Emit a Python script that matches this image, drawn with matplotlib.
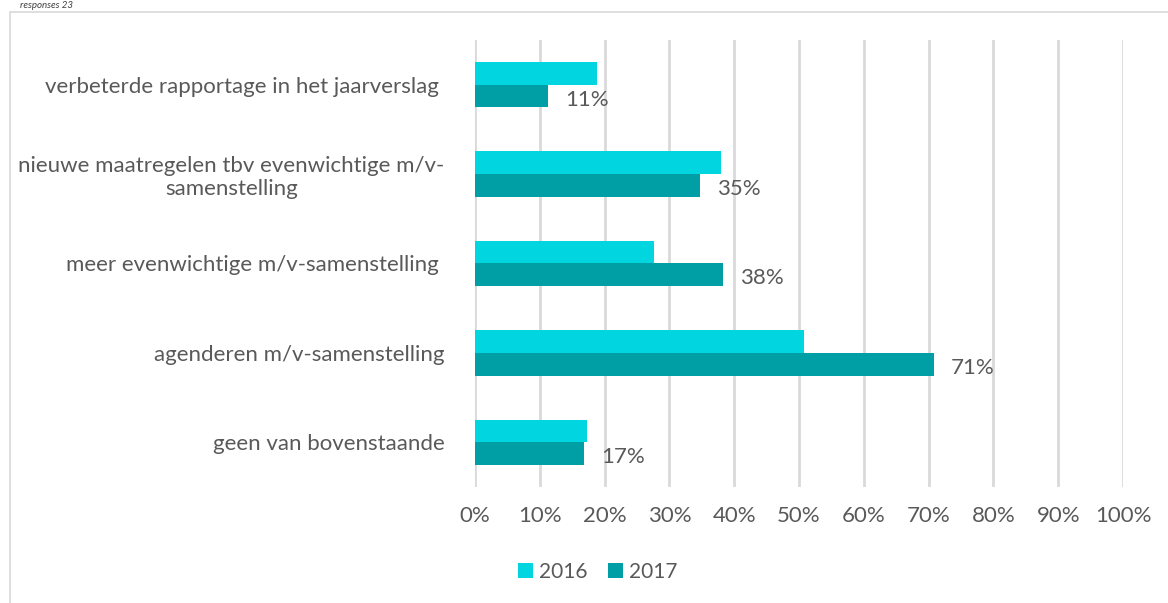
import matplotlib.pyplot as plt
from matplotlib.patches import Rectangle

categories = [
    "verbeterde rapportage in het jaarverslag ",
    "nieuwe maatregelen tbv evenwichtige m/v-\nsamenstelling",
    "meer evenwichtige m/v-samenstelling ",
    "agenderen m/v-samenstelling",
    "geen van bovenstaande",
]
vals_2016 = [18.8, 38.0, 27.7, 50.8, 17.3]
vals_2017 = [11.3, 34.7, 38.3, 70.8, 16.8]
labels_2017 = ["11%", "35%", "38%", "71%", "17%"]
ticks = list(range(0, 101, 10))

plt.rcParams.update({"font.family": ["Lato", "DejaVu Sans"], "font.size": 16})
txt = "#595959"
c16, c17 = "#00D5E0", "#009FA6"

fig = plt.figure(figsize=(11.68, 6.03), dpi=100)
fig.patches.append(Rectangle((10 / 1168, -0.1), 1.1, 1 - 12 / 603 + 0.1,
                             transform=fig.transFigure, fill=False,
                             edgecolor="#d9d9d9", linewidth=1.2))
fig.text(20 / 1168, 1 - 5 / 603, "responses 23", fontsize=7, style="italic",
         color="#404040", va="center")

ax = fig.add_axes([475 / 1168, 1 - 487 / 603, 648 / 1168, 447 / 603])
n = len(categories)
ys = list(range(n))
h = 0.255
ax.barh([y - h / 2 for y in ys], vals_2016, height=h, color=c16, label="2016")
ax.barh([y + h / 2 for y in ys], vals_2017, height=h, color=c17, label="2017")
for y, v, lab in zip(ys, vals_2017, labels_2017):
    ax.text(v + 2.6, y + h / 2 + 0.04, lab, va="center", ha="left",
            fontsize=16, color=txt)

ax.set_ylim(n - 0.5, -0.5)
ax.set_xlim(0, 100)
ax.set_xticks(ticks)
ax.set_xticklabels([f"{t}%" for t in ticks])
ax.set_yticks(ys)
ax.set_yticklabels(categories, multialignment="center")
ax.tick_params(length=0, colors=txt, labelsize=16)
ax.tick_params(axis="x", pad=14)
ax.tick_params(axis="y", pad=22)
ax.grid(axis="x", color="#d9d9d9", linewidth=2)
ax.set_axisbelow(True)
for s in ax.spines.values():
    s.set_visible(False)

ax.legend(loc="center", bbox_to_anchor=(598 / 1168, 1 - 572 / 603),
          bbox_transform=fig.transFigure, ncol=2, frameon=False,
          handlelength=0.7, handleheight=0.7, handletextpad=0.3,
          columnspacing=1.0, fontsize=15, labelcolor=txt)

fig.savefig("out.png", dpi=100)
